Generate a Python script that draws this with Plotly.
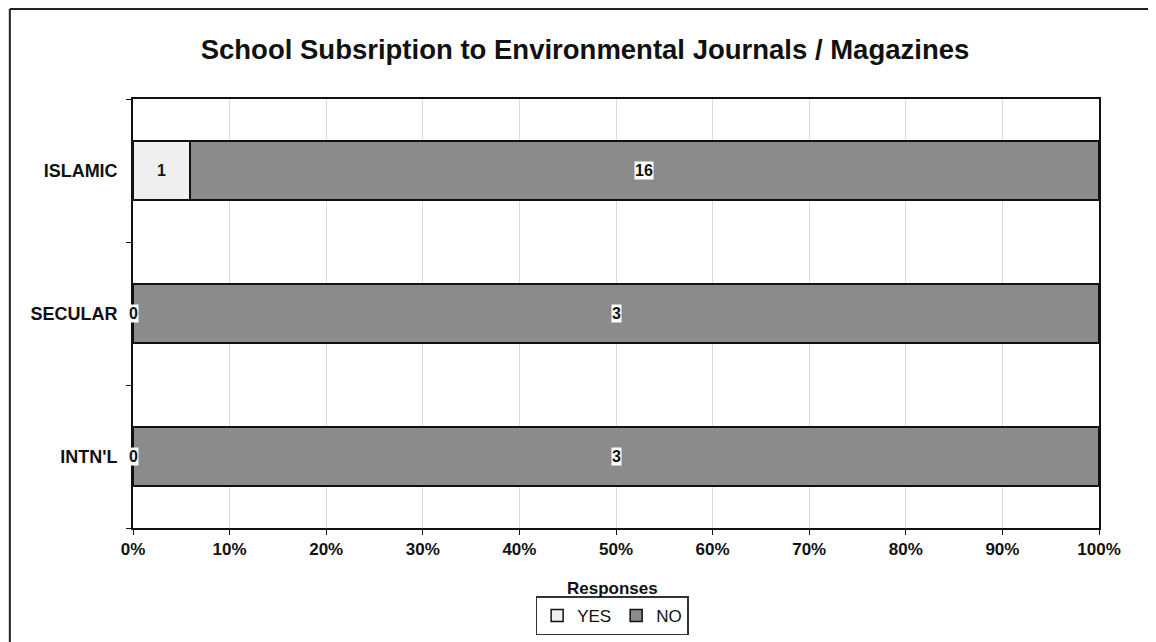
import plotly.graph_objects as go

categories = ["ISLAMIC", "SECULAR", "INTN'L"]
yes_values = [1, 0, 0]
no_values = [16, 3, 3]
x_ticks = [0, 10, 20, 30, 40, 50, 60, 70, 80, 90, 100]
x_tick_labels = [f"{v}%" for v in x_ticks]

FONT = "Liberation Sans, Arial, sans-serif"
INK = "#111111"

fig = go.Figure()
fig.add_trace(go.Bar(
    y=categories, x=yes_values, name="YES", orientation="h",
    marker=dict(color="#efefef", line=dict(color=INK, width=1.5)),
))
fig.add_trace(go.Bar(
    y=categories, x=no_values, name="NO", orientation="h",
    marker=dict(color="#8b8b8b", line=dict(color=INK, width=1.5)),
))

annotations = []
for cat, yv, nv in zip(categories, yes_values, no_values):
    tot = yv + nv
    yp = 100 * yv / tot
    np_ = 100 * nv / tot
    annotations.append(dict(x=yp / 2, y=cat, xref="x", yref="y", text=f"<b>{yv}</b>",
                            showarrow=False, bgcolor="#ffffff" if yv == 0 else "rgba(0,0,0,0)",
                            font=dict(family=FONT, size=16, color=INK), borderpad=0))
    annotations.append(dict(x=yp + np_ / 2, y=cat, xref="x", yref="y", text=f"<b>{nv}</b>",
                            showarrow=False, bgcolor="#ffffff",
                            font=dict(family=FONT, size=16, color=INK), borderpad=0))

annotations.append(dict(x=0.496, y=-0.14, xref="paper", yref="paper", text="<b>Responses</b>",
                        showarrow=False, yanchor="middle",
                        font=dict(family=FONT, size=17, color=INK)))

fig.update_layout(
    width=1148, height=634,
    margin=dict(l=125, r=57, t=91, b=114, autoexpand=False),
    paper_bgcolor="#ffffff", plot_bgcolor="#ffffff",
    barmode="stack", barnorm="percent", bargap=0.59,
    title=dict(text="<b>School Subsription to Environmental Journals / Magazines</b>",
               x=0.5026, xanchor="center", y=0.935, yanchor="middle",
               font=dict(family=FONT, size=27.5, color=INK)),
    font=dict(family=FONT, size=17, color=INK),
    xaxis=dict(range=[0, 100], tickvals=x_ticks, ticktext=[f"<b>{t}</b>" for t in x_tick_labels],
               showgrid=True, gridcolor="#dcdcdc", gridwidth=1,
               showline=True, linecolor=INK, linewidth=1.5, mirror=True,
               ticks="outside", ticklen=5, tickcolor=INK, zeroline=False,
               tickfont=dict(family=FONT, size=17, color=INK)),
    yaxis=dict(autorange="reversed", tickson="boundaries", ticks="outside", ticklen=5,
               tickcolor=INK, showline=True, linecolor=INK, linewidth=1.5, mirror=True,
               showgrid=False,
               tickvals=categories,
               ticktext=[f"<b>{c}</b>\u00a0\u00a0" for c in categories],
               tickfont=dict(family=FONT, size=18, color=INK)),
    legend=dict(orientation="h", traceorder="normal", x=0.496, xanchor="center", y=-0.205,
                yanchor="middle", bordercolor="#333333", borderwidth=1.5, bgcolor="#ffffff",
                font=dict(family=FONT, size=17, color=INK), itemwidth=30),
    annotations=annotations,
    shapes=[
        dict(type="line", xref="paper", yref="paper", x0=-0.1275, x1=-0.1275, y0=-0.3, y1=1.21,
             line=dict(color="#222222", width=2)),
        dict(type="line", xref="paper", yref="paper", x0=-0.1275, x1=1.1, y0=1.21, y1=1.21,
             line=dict(color="#222222", width=2)),
    ],
)

fig.write_html("out.html")
